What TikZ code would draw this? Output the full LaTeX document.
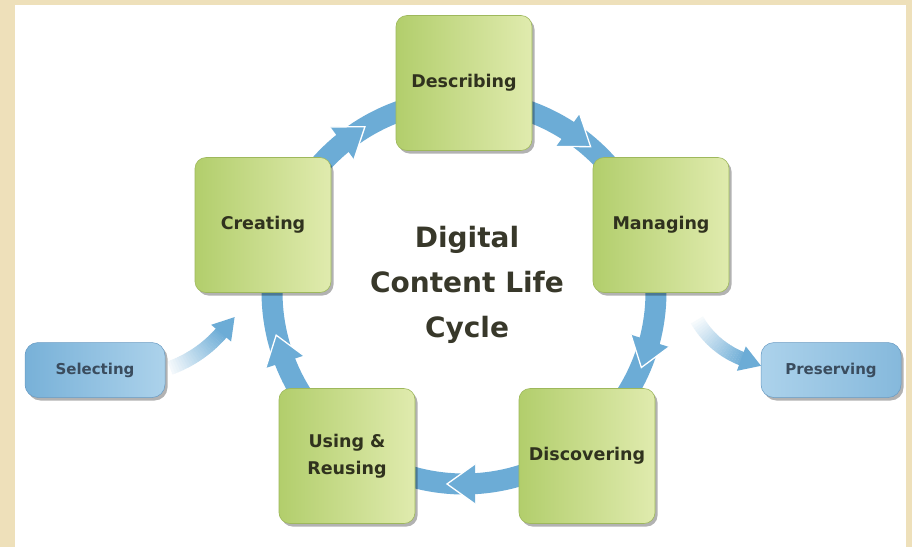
\documentclass[tikz,border=0pt]{standalone}
\usepackage{fontspec}
\setmainfont{DejaVu Sans}
\usetikzlibrary{decorations.markings,shadows}
\pgfdeclarelayer{canvas}
\pgfdeclarelayer{background}
\pgfsetlayers{canvas,background,main}
\definecolor{beige}{RGB}{238,224,186}
\definecolor{arrowblue}{RGB}{108,172,214}
\definecolor{gl}{RGB}{178,206,108}
\definecolor{gr}{RGB}{224,235,174}
\definecolor{gborder}{RGB}{158,184,92}
\definecolor{txt}{RGB}{48,50,30}
\definecolor{bll}{RGB}{120,177,216}
\definecolor{blr}{RGB}{172,210,235}
\definecolor{bborder}{RGB}{105,155,195}
\definecolor{btxt}{RGB}{58,76,94}
\definecolor{centertxt}{RGB}{56,56,42}
\tikzset{
  greenbox/.style={draw=gborder, line width=0.6pt, rounded corners=11pt,
    left color=gl, right color=gr, minimum width=136pt, minimum height=135pt,
    align=center, text=txt, font=\bfseries\fontsize{17.5}{27}\selectfont,
    drop shadow={shadow xshift=2.5pt, shadow yshift=-3pt, opacity=0.3, fill=black}},
  bluebox/.style={draw=bborder, line width=0.5pt, rounded corners=13pt,
    minimum width=140pt, minimum height=55pt, align=center, text=btxt,
    font=\bfseries\fontsize{15}{18}\selectfont,
    drop shadow={shadow xshift=2.5pt, shadow yshift=-3pt, opacity=0.3, fill=black}},
  cyclearrow/.style={draw=arrowblue, line width=21pt,
    postaction={decorate},
    decoration={markings, mark=at position 0.5 with {
      \fill[arrowblue] (17,0) -- (-11,20) -- (-11,-20) -- cycle;
      \draw[white, line width=1.3pt] (-11,20) -- (17,0) -- (-11,-20);}}},
  sidehead/.style={fill=arrowblue}
}
\begin{document}
\begin{tikzpicture}[x=1pt, y=-1pt]
\useasboundingbox (0,0) rectangle (912,547);
\begin{pgfonlayer}{canvas}
\fill[beige] (0,0) rectangle (912,547);
\fill[white] (15,5) rectangle (906,547);
\end{pgfonlayer}

% boxes
\node[greenbox] (describing) at (464,83) {Describing};
\node[greenbox] (creating) at (263,225) {Creating};
\node[greenbox] (managing) at (661,225) {Managing};
\node[greenbox] (using) at (347,456) {Using \&\\Reusing};
\node[greenbox] (discovering) at (587,456) {Discovering};
\node[bluebox, left color=bll, right color=blr] (selecting) at (95,370) {Selecting};
\node[bluebox, left color=blr, right color=bll!90!white] (preserving) at (831,370) {Preserving};

\node[align=center, text=centertxt, font=\bfseries\fontsize{28}{45}\selectfont] (title) at (467,285) {Digital\\Content Life\\Cycle};

\begin{pgfonlayer}{background}
% cycle arcs (circle centre 464,292, radius 192)
\coordinate (cc) at (464,292);
\draw[cyclearrow] plot[domain=198:270, samples=40] ({464+192*cos(\x)},{292+192*sin(\x)});
\draw[cyclearrow] plot[domain=270:342, samples=40] ({464+192*cos(\x)},{292+192*sin(\x)});
\draw[cyclearrow] plot[domain=342:414, samples=40] ({464+192*cos(\x)},{292+192*sin(\x)});
\draw[cyclearrow] plot[domain=414:486, samples=40] ({464+192*cos(\x)},{292+192*sin(\x)});
\draw[cyclearrow] plot[domain=486:558, samples=40] ({464+192*cos(\x)},{292+192*sin(\x)});

% Selecting -> Creating (fading)
\foreach \i in {0,...,23} {
  \pgfmathsetmacro\aa{70-\i*1.25}
  \pgfmathsetmacro\ab{\aa-1.4}
  \pgfmathsetmacro\pc{4*\i+8}
  \draw[line width=14pt, arrowblue!\pc!white] plot[domain=\aa:\ab, samples=3] ({127.3+125*cos(\x)},{250.5+125*sin(\x)});
}
\coordinate (selhead) at (234.6,317.1);
\fill[sidehead] (selhead) -- (231.1,341.5) -- (211.2,324.8) -- cycle;

% Managing -> Preserving (fading)
\foreach \i in {0,...,23} {
  \pgfmathsetmacro\aa{150-\i*1.6667}
  \pgfmathsetmacro\ab{\aa-1.8}
  \pgfmathsetmacro\pc{4*\i+6}
  \draw[line width=14pt, arrowblue!\pc!white] plot[domain=\aa:\ab, samples=3] ({774.9+90*cos(\x)},{275+90*sin(\x)});
}
\coordinate (preshead) at (761.0,365.8);
\fill[sidehead] (preshead) -- (736.9,370.8) -- (745.8,346.4) -- cycle;
\end{pgfonlayer}
\end{tikzpicture}
\end{document}
